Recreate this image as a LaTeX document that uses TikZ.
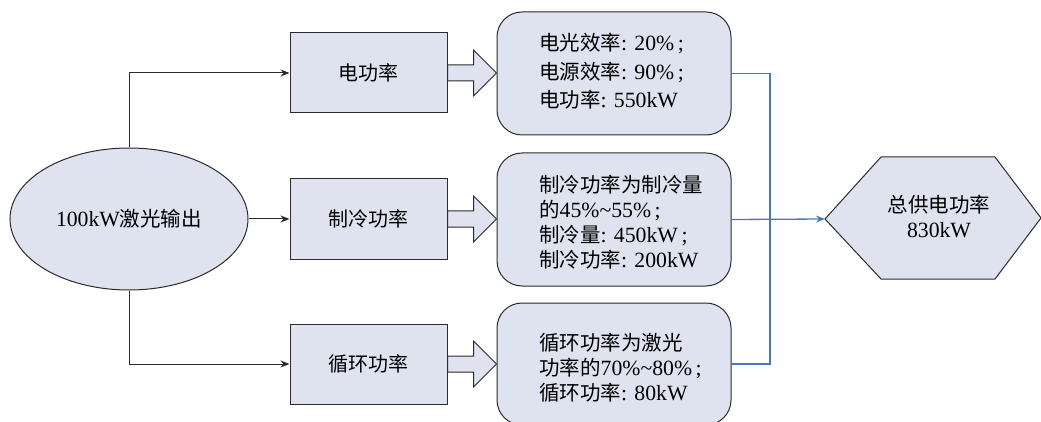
\documentclass[tikz,border=0pt]{standalone}
\usepackage{fontspec}
\setmainfont{Liberation Serif}[Scale=1.06]
\newfontfamily\cjk{Noto Sans CJK SC}
\usetikzlibrary{calc,arrows.meta,shapes.geometric}
\definecolor{boxfill}{HTML}{DEE3EF}
\definecolor{linkblue}{HTML}{4A78C0}
\definecolor{edgegray}{HTML}{2B2B2B}
\newcommand{\zh}[1]{{\cjk #1}}
\newcommand{\blockarr}[2]{\draw[blockarrow] ($(#1.east)+(0,-8)$) -- ++(26,0) -- ++(0,-15) -- (#1.east -| #2.west) -- ($(#1.east)+(26,23)$) -- ++(0,-15) -- ++(-26,0) -- cycle;}
\begin{document}
\begin{tikzpicture}[x=1pt,y=-1pt,
  base/.style={draw=edgegray, line width=1pt, fill=boxfill, font=\fontsize{20}{25}\selectfont},
  sqbox/.style={base, minimum width=157pt, minimum height=80pt, inner sep=0pt},
  rbox/.style={base, rounded corners=25pt, minimum width=234pt, inner sep=0pt},
  txt/.style={align=left, anchor=west, inner sep=0pt},
  link/.style={draw=edgegray, line width=1pt, -{Stealth[length=9pt,width=7pt]}},
  bluelink/.style={draw=linkblue, line width=1.3pt},
  blockarrow/.style={draw=edgegray, line width=1pt, fill=boxfill, line join=miter}
]
\useasboundingbox (0,0) rectangle (1041,422);
\clip (0,0) rectangle (1041,422);

% source ellipse
\node[base, ellipse, minimum width=238pt, minimum height=142pt, inner sep=0pt, font=\fontsize{20.5}{25}\selectfont] (src) at (129,219) {100kW\zh{激光输出}};

% square boxes
\node[sqbox] (b1) at (368.5,73) {\zh{电功率}};
\node[sqbox] (b2) at (368.5,219) {\zh{制冷功率}};
\node[sqbox] (b3) at (368.5,364) {\zh{循环功率}};

% rounded boxes
\node[rbox, minimum height=123pt] (rA) at (614,73.5) {};
\node[rbox, minimum height=133pt] (rB) at (614,219.5) {};
\node[rbox, minimum height=122pt] (rC) at (614,364) {};

\node[txt, font=\fontsize{20.5}{28.5}\selectfont] (tA) at (539,71.5)
  {\zh{电光效率}: 20\%\,;\\\zh{电源效率}: 90\%\,;\\\zh{电功率}: 550kW};
\node[txt, font=\fontsize{20.5}{25}\selectfont] (tB) at (539,222.5)
  {\zh{制冷功率为制冷量}\\\zh{的}45\%\textasciitilde55\%\,;\\\zh{制冷量}: 450kW\,;\\\zh{制冷功率}: 200kW};
\node[txt, font=\fontsize{20.5}{25}\selectfont] (tC) at (539,368)
  {\zh{循环功率为激光}\\\zh{功率的}70\%\textasciitilde80\%\,;\\\zh{循环功率}: 80kW};

% hexagon
\coordinate (hexL) at (825,219);
\draw[base] (hexL) -- (881,157) -- (995,157) -- (1041,218) -- (995,279) -- (881,279) -- cycle;
\node[align=center, font=\fontsize{20.5}{25}\selectfont, inner sep=0pt] (tot) at (939,216) {\zh{总供电功率}\\830kW};

% connectors
\draw[link] (src.north) |- (b1.west);
\draw[link] (src.east) -- (b2.west);
\draw[link] (src.south) |- (b3.west);

\blockarr{b1}{rA}
\blockarr{b2}{rB}
\blockarr{b3}{rC}

\coordinate (bus) at (770,219);
\draw[bluelink] (rA.east) -| (bus) |- (rC.east);
\draw[bluelink, -{Stealth[length=9pt,width=7pt]}] (rB.east) -- (hexL);
\end{tikzpicture}
\end{document}
